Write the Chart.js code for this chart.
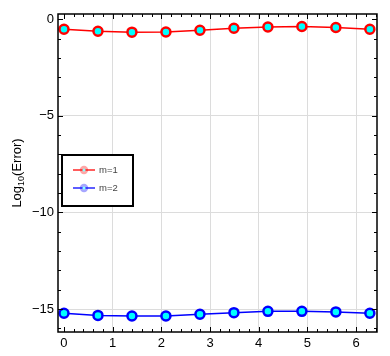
<!DOCTYPE html>
<html><head><meta charset="utf-8">
<script src="https://cdn.jsdelivr.net/npm/chart.js@4"></script>
<style>html,body{margin:0;padding:0;background:#fff}#wrap{width:390px;height:356px}</style>
</head><body><div id="wrap"><canvas id="c" width="390" height="356"></canvas></div>
<script>
const xValues = [0, 0.698, 1.396, 2.094, 2.793, 3.491, 4.189, 4.887, 5.585, 6.283];
const m1Values = [-0.52, -0.62, -0.67, -0.66, -0.57, -0.47, -0.40, -0.38, -0.43, -0.52];
const m2Values = [-15.22, -15.33, -15.36, -15.36, -15.27, -15.19, -15.12, -15.12, -15.15, -15.22];
const seriesNames = ['m=1', 'm=2'];
const xTickValues = [0, 1, 2, 3, 4, 5, 6];
const yTickValues = [-15, -10, -5, 0];

const FONT = '"Liberation Sans", Arial, sans-serif';

const framePlugin = {
  id: 'frame',
  afterDatasetsDraw(chart) {
    const {ctx, chartArea: a, scales: {x, y}} = chart;
    ctx.save();
    ctx.strokeStyle = '#000';
    ctx.lineWidth = 1;
    for (let v = -0.2; v <= 6.5; v += 0.2) {
      const vv = Math.round(v * 10) / 10;
      const px = Math.round(x.getPixelForValue(vv)) + 0.5;
      if (px < a.left || px > a.right) continue;
      const major = Math.abs(vv - Math.round(vv)) < 1e-6;
      const len = major ? 5 : 3;
      ctx.beginPath();
      ctx.moveTo(px, a.bottom); ctx.lineTo(px, a.bottom - len);
      ctx.moveTo(px, a.top); ctx.lineTo(px, a.top + len);
      ctx.stroke();
    }
    for (let v = -17; v <= 1; v += 1) {
      const py = Math.round(y.getPixelForValue(v)) + 0.5;
      if (py < a.top || py > a.bottom) continue;
      const major = v % 5 === 0;
      const len = major ? 5 : 3;
      ctx.beginPath();
      ctx.moveTo(a.left, py); ctx.lineTo(a.left + len, py);
      ctx.moveTo(a.right, py); ctx.lineTo(a.right - len, py);
      ctx.stroke();
    }
    ctx.lineWidth = 1.5;
    ctx.strokeRect(a.left, a.top, a.right - a.left, a.bottom - a.top);

    // legend
    const lx = 62, ly = 155, lw = 71, lh = 51;
    ctx.fillStyle = '#fff';
    ctx.fillRect(lx, ly, lw, lh);
    ctx.lineWidth = 2;
    ctx.strokeStyle = '#000';
    ctx.strokeRect(lx, ly, lw, lh);
    const ds = chart.data.datasets;
    const rows = [170, 188];
    ds.forEach((d, i) => {
      const yy = rows[i];
      ctx.strokeStyle = d.borderColor;
      ctx.globalAlpha = 0.85;
      ctx.lineWidth = 1.5;
      ctx.beginPath(); ctx.moveTo(73, yy); ctx.lineTo(95, yy); ctx.stroke();
      ctx.globalAlpha = 0.35;
      ctx.fillStyle = d.borderColor;
      ctx.beginPath(); ctx.arc(84, yy, 4.2, 0, Math.PI * 2); ctx.fill();
      ctx.globalAlpha = 1;
      ctx.fillStyle = '#8ff';
      ctx.beginPath(); ctx.arc(84, yy, 1.6, 0, Math.PI * 2); ctx.fill();
      ctx.fillStyle = '#444';
      ctx.font = '9.5px ' + FONT;
      ctx.textBaseline = 'middle';
      ctx.textAlign = 'left';
      ctx.fillText(seriesNames[i], 99, yy + 0.5);
    });

    // y-axis title with subscript
    ctx.save();
    ctx.translate(21, 173);
    ctx.rotate(-Math.PI / 2);
    ctx.fillStyle = '#000';
    ctx.textBaseline = 'alphabetic';
    ctx.textAlign = 'left';
    ctx.font = '13px ' + FONT;
    const w1 = ctx.measureText('Log').width;
    ctx.font = '9px ' + FONT;
    const w2 = ctx.measureText('10').width;
    ctx.font = '13px ' + FONT;
    const w3 = ctx.measureText('(Error)').width;
    let sx = -(w1 + w2 + w3) / 2;
    ctx.fillText('Log', sx, 0);
    ctx.font = '9px ' + FONT;
    ctx.fillText('10', sx + w1, 3);
    ctx.font = '13px ' + FONT;
    ctx.fillText('(Error)', sx + w1 + w2, 0);
    ctx.restore();
    ctx.restore();
  }
};

new Chart(document.getElementById('c'), {
  type: 'line',
  data: {
    datasets: [
      {label: seriesNames[0], data: xValues.map((v, i) => ({x: v, y: m1Values[i]})),
       borderColor: '#ff0000', backgroundColor: '#00ffff', pointBackgroundColor: '#00ffff',
       pointBorderColor: '#ff0000', borderWidth: 1.5, pointRadius: 4.5, pointBorderWidth: 2.5, tension: 0},
      {label: seriesNames[1], data: xValues.map((v, i) => ({x: v, y: m2Values[i]})),
       borderColor: '#0000ff', backgroundColor: '#00ffff', pointBackgroundColor: '#00ffff',
       pointBorderColor: '#0000ff', borderWidth: 1.5, pointRadius: 4.5, pointBorderWidth: 2.5, tension: 0}
    ]
  },
  options: {
    responsive: false,
    animation: false,
    layout: {padding: {left: 0, right: 13, top: 14, bottom: 0}},
    plugins: {legend: {display: false}, tooltip: {enabled: false}},
    scales: {
      x: {
        type: 'linear', min: -0.123, max: 6.43,
        afterBuildTicks: s => { s.ticks = xTickValues.map(v => ({value: v})); },
        afterFit: s => { s.height = 24; },
        grid: {color: ctx => ctx.tick && ctx.tick.value === 0 ? 'rgba(0,0,0,0)' : '#dcdcdc', lineWidth: 1, drawTicks: false},
        border: {display: false},
        ticks: {color: '#000', font: {family: FONT, size: 13}, padding: 4, maxRotation: 0}
      },
      y: {
        type: 'linear', min: -16.19, max: 0.27,
        afterBuildTicks: s => { s.ticks = yTickValues.map(v => ({value: v})); },
        afterFit: s => { s.width = 58; },
        grid: {color: ctx => ctx.tick && ctx.tick.value === 0 ? 'rgba(0,0,0,0)' : '#dcdcdc', lineWidth: 1, drawTicks: false},
        border: {display: false},
        ticks: {color: '#000', font: {family: FONT, size: 13}, padding: 4,
          callback: v => (v < 0 ? '\u2212' + Math.abs(v) : String(v))}
      }
    }
  },
  plugins: [framePlugin]
});
</script>
</body></html>
